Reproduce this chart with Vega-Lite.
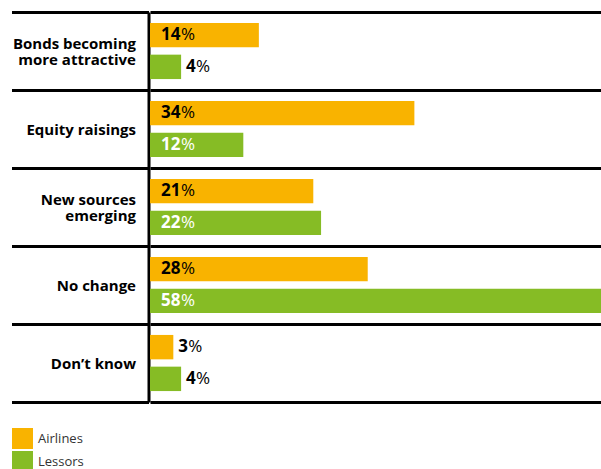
{
  "$schema": "https://vega.github.io/schema/vega-lite/v6.json",
  "width": 451,
  "height": 390,
  "autosize": {"type": "none"},
  "padding": {"left": 150, "top": 12, "right": 0, "bottom": 67},
  "background": "white",
  "config": {"view": {"stroke": null}, "font": "Open Sans"},
  "data": {
    "values": [
      {"category": "Bonds becoming more attractive", "series": "Airlines", "value": 14},
      {"category": "Bonds becoming more attractive", "series": "Lessors", "value": 4},
      {"category": "Equity raisings", "series": "Airlines", "value": 34},
      {"category": "Equity raisings", "series": "Lessors", "value": 12},
      {"category": "New sources emerging", "series": "Airlines", "value": 21},
      {"category": "New sources emerging", "series": "Lessors", "value": 22},
      {"category": "No change", "series": "Airlines", "value": 28},
      {"category": "No change", "series": "Lessors", "value": 58},
      {"category": "Don’t know", "series": "Airlines", "value": 3},
      {"category": "Don’t know", "series": "Lessors", "value": 4}
    ]
  },
  "encoding": {
    "y": {
      "field": "category",
      "type": "nominal",
      "sort": ["Bonds becoming more attractive", "Equity raisings", "New sources emerging", "No change", "Don’t know"],
      "scale": {"paddingInner": 0, "paddingOuter": 0},
      "axis": {
        "title": null,
        "domain": true,
        "domainColor": "#000",
        "domainWidth": 3,
        "ticks": true,
        "tickColor": "#000",
        "tickWidth": 3,
        "tickSize": 137,
        "tickBand": "extent",
        "grid": true,
        "gridColor": "#000",
        "gridWidth": 3,
        "gridOpacity": 1,
        "offset": 1.5,
        "labelFont": "Open Sans",
        "labelFontWeight": "bold",
        "labelFontSize": 15,
        "labelColor": "#000",
        "labelPadding": -124,
        "labelLineHeight": 16,
        "labelLimit": 0,
        "labelOffset": {"condition": {"test": "datum.value == 'Bonds becoming more attractive' || datum.value == 'New sources emerging'", "value": -8}, "value": 0},
        "labelExpr": "datum.value == 'Bonds becoming more attractive' ? ['Bonds becoming', 'more attractive'] : datum.value == 'New sources emerging' ? ['New sources', 'emerging'] : datum.value"
      }
    },
    "yOffset": {
      "field": "series",
      "type": "nominal",
      "sort": ["Airlines", "Lessors"],
      "scale": {"paddingInner": 0.23, "paddingOuter": 0.345}
    }
  },
  "layer": [
    {
      "mark": {"type": "bar"},
      "encoding": {
        "x": {"field": "value", "type": "quantitative", "scale": {"domain": [0, 58], "nice": false}, "axis": null},
        "color": {
          "field": "series",
          "type": "nominal",
          "scale": {"domain": ["Airlines", "Lessors"], "range": ["#F9B300", "#86BC25"]},
          "legend": {
            "orient": "none",
            "legendX": -138,
            "legendY": 416,
            "title": null,
            "symbolType": "square",
            "symbolSize": 441,
            "symbolStrokeWidth": 0,
            "symbolOpacity": 1,
            "labelFont": "Open Sans",
            "labelFontSize": 13,
            "labelColor": "#333",
            "rowPadding": 2,
            "labelOffset": 5
          }
        }
      }
    },
    {
      "transform": [{"filter": "datum.value >= 10"}],
      "mark": {"type": "text", "align": "left", "baseline": "middle", "dx": 11, "font": "Open Sans", "fontWeight": "bold", "fontSize": 17},
      "encoding": {
        "x": {"datum": 0, "type": "quantitative"},
        "text": {"field": "value", "type": "quantitative"},
        "color": {"condition": {"test": "datum.series === 'Lessors'", "value": "#ffffff"}, "value": "#000000"}
      }
    },
    {
      "transform": [{"filter": "datum.value >= 10"}],
      "mark": {"type": "text", "align": "left", "baseline": "middle", "dx": 31, "font": "Open Sans", "fontWeight": "normal", "fontSize": 17},
      "encoding": {
        "x": {"datum": 0, "type": "quantitative"},
        "text": {"value": "%"},
        "color": {"condition": {"test": "datum.series === 'Lessors'", "value": "#ffffff"}, "value": "#000000"}
      }
    },
    {
      "transform": [{"filter": "datum.value < 10"}],
      "mark": {"type": "text", "align": "left", "baseline": "middle", "dx": 5, "font": "Open Sans", "fontWeight": "bold", "fontSize": 17, "color": "#000"},
      "encoding": {
        "x": {"field": "value", "type": "quantitative"},
        "text": {"field": "value", "type": "quantitative"}
      }
    },
    {
      "transform": [{"filter": "datum.value < 10"}],
      "mark": {"type": "text", "align": "left", "baseline": "middle", "dx": 15, "font": "Open Sans", "fontWeight": "normal", "fontSize": 17, "color": "#000"},
      "encoding": {
        "x": {"field": "value", "type": "quantitative"},
        "text": {"value": "%"}
      }
    }
  ]
}
